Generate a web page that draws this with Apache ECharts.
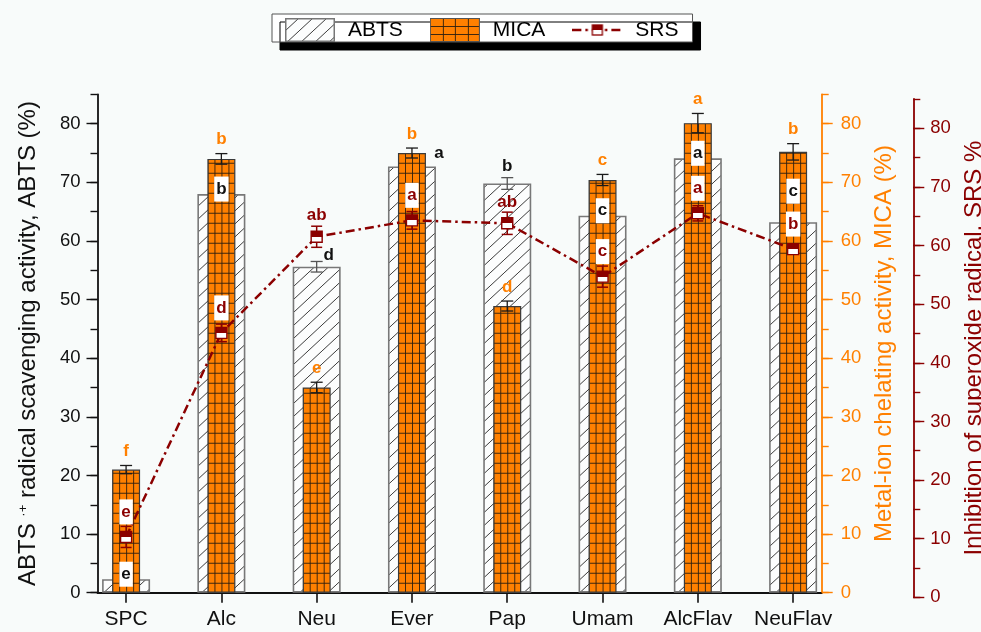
<!DOCTYPE html>
<html>
<head>
<meta charset="utf-8">
<script src="https://cdn.jsdelivr.net/npm/echarts@6/dist/echarts.min.js"></script>
<style>
  html, body { margin: 0; padding: 0; background: #F8FBFA; }
  #chart { width: 981px; height: 632px; }
</style>
</head>
<body>
<div id="chart"></div>
<script>
// Antioxidant activities of the extracts: ABTS, MICA (bars) and SRS (line)
const categories = ['SPC', 'Alc', 'Neu', 'Ever', 'Pap', 'Umam', 'AlcFlav', 'NeuFlav'];

const abtsValues  = [2.3, 68.0, 55.6, 72.7, 69.8, 64.3, 74.1, 63.2];
const abtsErrors  = [0.3, 0.8, 0.9, 0.8, 1.0, 0.8, 0.8, 0.8];
const abtsLetters = ['e', 'b', 'd', 'a', 'b', 'c', 'a', 'c'];

const micaValues  = [21.0, 74.0, 35.0, 75.0, 48.9, 70.4, 80.1, 75.2];
const micaErrors  = [0.7, 0.9, 0.9, 0.85, 0.85, 0.95, 1.65, 1.4];
const micaLetters = ['f', 'b', 'e', 'b', 'd', 'c', 'a', 'b'];

const srsValues  = [10.3, 45.1, 61.5, 64.3, 63.8, 54.7, 65.5, 59.4];
const srsErrors  = [1.8, 1.5, 1.8, 1.5, 1.9, 1.8, 1.3, 0.8];
const srsLetters = ['e', 'd', 'ab', 'a', 'ab', 'c', 'a', 'b'];

const yMajorTicks = [0, 10, 20, 30, 40, 50, 60, 70, 80];
const yMinorTicks = [5, 15, 25, 35, 45, 55, 65, 75, 85];

// where the ABTS letter sits relative to its bar
const abtsLetterPlacement = ['inside', 'inside', 'aboveRight', 'right', 'above', 'inside', 'inside', 'insideRaised'];

const FONT = '"Liberation Sans", Arial, Helvetica, sans-serif';
const LETTER_FONT = 'bold 17px ' + FONT;
const BLACK = '#111111';
const ORANGE = '#FF8000';
const DARKRED = '#8B0000';
const ABTS_BAR_W = 48;
const MICA_BAR_W = 28;

const xPositions = categories.map((c, i) => i + 1);

function makeCanvas(w, h) {
  const c = document.createElement('canvas');
  c.width = w; c.height = h;
  return c;
}

// diagonal hatch used for ABTS
function hatchTile() {
  const w = 14, h = 13;
  const c = makeCanvas(w, h);
  const ctx = c.getContext('2d');
  ctx.fillStyle = '#FCFDFD';
  ctx.fillRect(0, 0, w, h);
  ctx.strokeStyle = '#3c3c3c';
  ctx.lineWidth = 1;
  ctx.beginPath();
  [-w, 0, w].forEach(dx => { ctx.moveTo(dx, h); ctx.lineTo(dx + w, 0); });
  ctx.stroke();
  return c;
}

// orange grid used for MICA
function gridTile() {
  const c = makeCanvas(7, 10);
  const ctx = c.getContext('2d');
  ctx.fillStyle = ORANGE;
  ctx.fillRect(0, 0, 7, 10);
  ctx.strokeStyle = 'rgba(45,30,15,0.9)';
  ctx.lineWidth = 1;
  ctx.beginPath();
  ctx.moveTo(0.5, 0); ctx.lineTo(0.5, 10);
  ctx.moveTo(0, 0.5); ctx.lineTo(7, 0.5);
  ctx.stroke();
  return c;
}

const HATCH = hatchTile();
const GRID = gridTile();

function micaPattern(x, y) {
  return { image: GRID, repeat: 'repeat', x: x, y: y };
}

// legend icons
function legendIcon(kind) {
  const w = 50, h = 24;
  const c = makeCanvas(w, h);
  const ctx = c.getContext('2d');
  if (kind === 'abts') {
    ctx.fillStyle = ctx.createPattern(HATCH, 'repeat');
    ctx.fillRect(0, 0, w, h);
    ctx.strokeStyle = '#777';
    ctx.lineWidth = 1.5;
    ctx.strokeRect(0.75, 0.75, w - 1.5, h - 1.5);
  } else if (kind === 'mica') {
    ctx.fillStyle = ORANGE;
    ctx.fillRect(0, 0, w, h);
    ctx.strokeStyle = 'rgba(45,30,15,0.9)';
    ctx.lineWidth = 1;
    ctx.beginPath();
    for (let x = 12.5; x < w; x += 12.5) { ctx.moveTo(Math.round(x) + 0.5, 0); ctx.lineTo(Math.round(x) + 0.5, h); }
    for (let y = 8; y < h; y += 8) { ctx.moveTo(0, y + 0.5); ctx.lineTo(w, y + 0.5); }
    ctx.stroke();
    ctx.strokeStyle = '#555';
    ctx.strokeRect(0.5, 0.5, w - 1, h - 1);
  } else {
    ctx.strokeStyle = DARKRED;
    ctx.lineWidth = 2.5;
    ctx.setLineDash([9, 4, 2.5, 4]);
    ctx.beginPath();
    ctx.moveTo(0, 12); ctx.lineTo(w, 12);
    ctx.stroke();
    ctx.setLineDash([]);
    const s = 10, x0 = (w - s) / 2, y0 = 12 - s / 2;
    ctx.fillStyle = '#fff';
    ctx.fillRect(x0, y0, s, s);
    ctx.fillStyle = DARKRED;
    ctx.fillRect(x0, y0, s, s / 2);
    ctx.lineWidth = 1.3;
    ctx.strokeRect(x0, y0, s, s);
  }
  return 'image://' + c.toDataURL();
}

function errorSeries(id, xIdx, yIdx, values, errors, color, capW, width, z) {
  return {
    id: id, type: 'custom', xAxisIndex: xIdx, yAxisIndex: yIdx, z: z, silent: true,
    data: values.map((v, i) => [i + 1, v, errors[i]]),
    renderItem: function (params, api) {
      const x = api.value(0), v = api.value(1), e = api.value(2);
      const hi = api.coord([x, v + e]);
      const lo = api.coord([x, v - e]);
      const h = capW / 2;
      const st = { stroke: color, lineWidth: width };
      return {
        type: 'group',
        children: [
          { type: 'line', shape: { x1: hi[0], y1: hi[1], x2: lo[0], y2: lo[1] }, style: st },
          { type: 'line', shape: { x1: hi[0] - h, y1: hi[1], x2: hi[0] + h, y2: hi[1] }, style: st },
          { type: 'line', shape: { x1: lo[0] - h, y1: lo[1], x2: lo[0] + h, y2: lo[1] }, style: st }
        ]
      };
    }
  };
}

function letterText(x, y, text, color, boxed) {
  const style = {
    text: text, fill: color, font: LETTER_FONT,
    align: 'center', verticalAlign: 'middle'
  };
  if (boxed) {
    style.backgroundColor = '#ffffff';
    style.padding = [4, 2, 4, 2];
  }
  return { type: 'text', x: x, y: y, style: style };
}

function letterSeries(id, xIdx, yIdx, values, errors, z, place) {
  return {
    id: id, type: 'custom', xAxisIndex: xIdx, yAxisIndex: yIdx, z: z, silent: true,
    data: values.map((v, i) => [i + 1, v, errors[i]]),
    renderItem: function (params, api) {
      const i = params.dataIndex;
      const x = api.value(0), v = api.value(1), e = api.value(2);
      const top = api.coord([x, v]);
      const cap = api.coord([x, v + e]);
      return place(i, top, cap);
    }
  };
}

const axisTickStyle = (color) => ({ color: color, width: 1.4 });

function yAxisPair(opts) {
  const main = {
    type: 'value', gridIndex: opts.grid, position: opts.position, offset: opts.offset,
    min: 0, max: 85, interval: 5,
    axisLine: { show: true, onZero: false, lineStyle: { color: opts.color, width: 1.8 } },
    axisTick: { show: true, inside: false, length: 7, lineStyle: axisTickStyle(opts.color) },
    axisLabel: {
      customValues: yMajorTicks, margin: opts.margin,
      fontSize: 18.5, fontFamily: FONT, color: opts.color
    },
    splitLine: { show: false },
    name: opts.name, nameLocation: 'middle', nameRotate: 90, nameGap: opts.nameGap,
    nameTextStyle: Object.assign({ fontSize: 24, fontFamily: FONT, color: opts.color }, opts.nameStyle || {})
  };
  const majors = {
    type: 'value', gridIndex: opts.grid, position: opts.position, offset: opts.offset,
    min: 0, max: 85,
    axisLine: { show: false },
    axisTick: { show: true, inside: false, length: 11, customValues: yMajorTicks, lineStyle: axisTickStyle(opts.color) },
    axisLabel: { show: false },
    splitLine: { show: false }
  };
  return [main, majors];
}

const leftAxes = yAxisPair({
  grid: 0, position: 'left', offset: 0, color: BLACK, margin: 17,
  name: '{t|ABTS }{s|·+}{t| radical scavenging activity, ABTS (%)}', nameGap: 57,
  nameStyle: {
    rich: {
      t: { fontSize: 24, fontFamily: FONT, color: BLACK },
      s: { fontSize: 13, fontFamily: FONT, color: BLACK, verticalAlign: 'top' }
    }
  }
});
const micaAxes = yAxisPair({
  grid: 0, position: 'right', offset: 0, color: ORANGE, margin: 19,
  name: 'Metal-ion chelating activity, MICA (%)', nameGap: 50
});
const srsAxes = yAxisPair({
  grid: 1, position: 'right', offset: 91.6, color: DARKRED, margin: 17,
  name: 'Inhibition of superoxide radical, SRS %', nameGap: 49
});

const xCommon = { type: 'value', min: 0.7, max: 8.3, splitLine: { show: false } };

const option = {
  animation: false,
  backgroundColor: '#F8FBFA',
  grid: [
    { left: 97.5, right: 159.3, top: 94.4, bottom: 39.3, containLabel: false, outerBoundsMode: 'none' },
    { left: 97.5, right: 159.3, top: 99.0, bottom: 34.7, containLabel: false, outerBoundsMode: 'none' }
  ],
  legend: {
    left: 272, top: 14,
    padding: [4, 14, 0, 13],
    itemWidth: 50, itemHeight: 24, itemGap: 27,
    backgroundColor: '#ffffff', borderColor: '#555', borderWidth: 1,
    shadowColor: '#000', shadowBlur: 0, shadowOffsetX: 8, shadowOffsetY: 8,
    selectedMode: false,
    textStyle: { fontSize: 21, fontFamily: FONT, color: '#000', padding: [0, 0, 0, 8] },
    data: [
      { name: 'ABTS', icon: legendIcon('abts') },
      { name: 'MICA', icon: legendIcon('mica') },
      { name: 'SRS', icon: legendIcon('srs') }
    ]
  },
  xAxis: [
    Object.assign({}, xCommon, {
      gridIndex: 0, position: 'bottom',
      axisLine: { show: true, onZero: false, lineStyle: { color: BLACK, width: 1.8 } },
      axisTick: { show: true, inside: false, length: 10, customValues: xPositions, lineStyle: { color: BLACK, width: 1.6 } },
      axisLabel: {
        customValues: xPositions, margin: 16, fontSize: 21, fontFamily: FONT, color: BLACK,
        formatter: v => categories[Math.round(v) - 1]
      }
    }),
    Object.assign({}, xCommon, { gridIndex: 0, show: false }),
    Object.assign({}, xCommon, { gridIndex: 1, show: false })
  ],
  yAxis: [].concat(leftAxes, micaAxes, srsAxes), // 0,1 ABTS | 2,3 MICA | 4,5 SRS
  series: [
    {
      id: 'abts', name: 'ABTS', type: 'bar', xAxisIndex: 0, yAxisIndex: 0, z: 2,
      barWidth: ABTS_BAR_W, silent: true,
      itemStyle: { color: { image: HATCH, repeat: 'repeat' }, borderColor: '#787878', borderWidth: 1.6 },
      data: abtsValues.map((v, i) => [i + 1, v])
    },
    errorSeries('abtsErr', 0, 0, abtsValues, abtsErrors, '#555', 12, 1.3, 3),
    {
      id: 'mica', name: 'MICA', type: 'bar', xAxisIndex: 1, yAxisIndex: 2, z: 4,
      barWidth: MICA_BAR_W, silent: true,
      itemStyle: { color: micaPattern(0, 0), borderColor: '#3a3a3a', borderWidth: 1.2 },
      data: micaValues.map((v, i) => [i + 1, v])
    },
    errorSeries('micaErr', 1, 2, micaValues, micaErrors, '#1a1a1a', 12, 1.3, 5),
    letterSeries('micaLetters', 1, 2, micaValues, micaErrors, 6, (i, top, cap) =>
      letterText(cap[0], cap[1] - 14, micaLetters[i], ORANGE, false)),
    letterSeries('abtsLetters', 0, 0, abtsValues, abtsErrors, 6, (i, top, cap) => {
      const mode = abtsLetterPlacement[i];
      if (mode === 'inside') return letterText(top[0], top[1] - 5, abtsLetters[i], BLACK, true);
      if (mode === 'insideRaised') return letterText(top[0], top[1] - 31, abtsLetters[i], BLACK, true);
      if (mode === 'above') return letterText(cap[0], cap[1] - 11, abtsLetters[i], BLACK, false);
      if (mode === 'aboveRight') return letterText(cap[0] + 12, cap[1] - 6, abtsLetters[i], BLACK, false);
      return letterText(top[0] + 27, top[1] - 13, abtsLetters[i], BLACK, false);
    }),
    errorSeries('srsErr', 2, 4, srsValues, srsErrors, DARKRED, 11, 1.5, 7),
    {
      id: 'srs', name: 'SRS', type: 'line', xAxisIndex: 2, yAxisIndex: 4, z: 8, silent: true,
      symbol: 'rect', symbolSize: 11,
      lineStyle: { color: DARKRED, width: 2.5, type: [9, 4, 2.5, 4] },
      itemStyle: {
        color: {
          type: 'linear', x: 0, y: 0, x2: 0, y2: 1,
          colorStops: [
            { offset: 0, color: DARKRED }, { offset: 0.5, color: DARKRED },
            { offset: 0.5, color: '#ffffff' }, { offset: 1, color: '#ffffff' }
          ]
        },
        borderColor: DARKRED, borderWidth: 1.4
      },
      data: srsValues.map((v, i) => [i + 1, v])
    },
    letterSeries('srsLetters', 2, 4, srsValues, srsErrors, 9, (i, top) => {
      const boxed = srsValues[i] < micaValues[i];
      return letterText(top[0], top[1] - (boxed ? 25 : 21), srsLetters[i], DARKRED, boxed);
    })
  ]
};

const chart = echarts.init(document.getElementById('chart'), null, { renderer: 'canvas' });
chart.setOption(option);

// anchor the MICA grid to each bar so its cells line up with the bar edges
const micaItems = micaValues.map((v, i) => {
  const base = chart.convertToPixel({ seriesId: 'mica' }, [i + 1, 0]);
  return {
    value: [i + 1, v],
    itemStyle: { color: micaPattern(base[0] - MICA_BAR_W / 2, base[1]) }
  };
});
chart.setOption({ series: [{ id: 'mica', data: micaItems }] });
</script>
</body>
</html>
